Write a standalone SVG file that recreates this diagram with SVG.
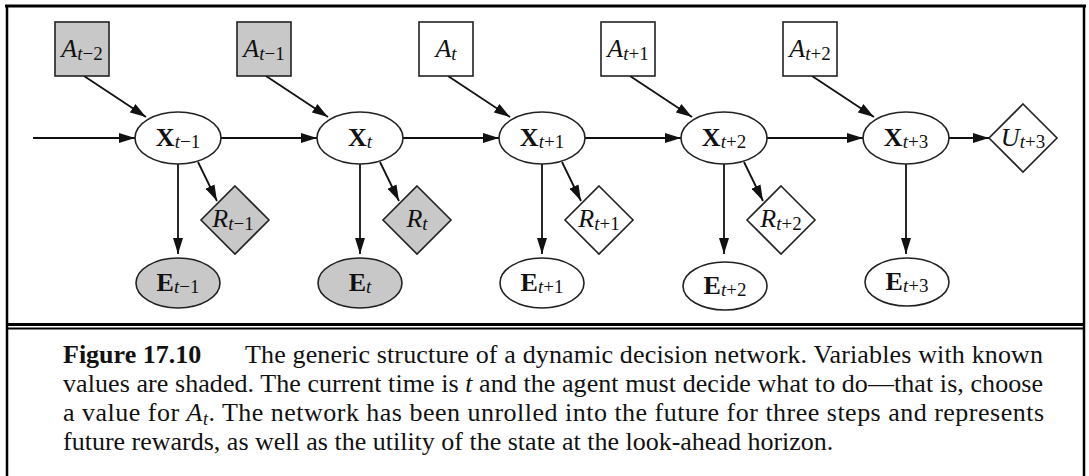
<svg xmlns="http://www.w3.org/2000/svg" width="1089" height="476" viewBox="0 0 1089 476">
<style>
.bg{fill:#fff}
.frame{stroke:#000;fill:none}
.n{stroke:#222;stroke-width:1.6;fill:#fff}
.sh{fill:#c8c8c9}
.e{stroke:#111;stroke-width:1.8;fill:none}
text{font-family:'Liberation Serif',Tinos,'Times New Roman',Times,serif}
.lab{font-size:26px;fill:#111}
.it{font-style:italic}
.bd{font-weight:bold}
.sub{font-size:19px}
.cap{font-size:26px;fill:#111}
</style>
<defs>
<marker id="ah" viewBox="0 0 16 10" refX="16" refY="5" markerWidth="16" markerHeight="10" markerUnits="userSpaceOnUse" orient="auto">
<path d="M0,0 L16,5 L0,10 z" fill="#111"/>
</marker>
</defs>
<rect class="bg" x="0" y="0" width="1089" height="476"/>
<g id="frame">
<line class="frame" x1="5" y1="6" x2="1086" y2="6" stroke-width="3"/>
<line class="frame" x1="7" y1="5" x2="7" y2="476" stroke-width="2.5"/>
<line class="frame" x1="1084" y1="5" x2="1084" y2="476" stroke-width="2.5"/>
<line class="frame" x1="6" y1="324.5" x2="1085" y2="324.5" stroke-width="3"/>
<line class="frame" x1="6" y1="328.5" x2="1085" y2="328.5" stroke-width="2"/>
</g>
<g id="connectors">
<line class="e" x1="33" y1="138" x2="135" y2="138" marker-end="url(#ah)"/>
<line class="e" x1="221" y1="138" x2="317" y2="138" marker-end="url(#ah)"/>
<line class="e" x1="403" y1="138" x2="499" y2="138" marker-end="url(#ah)"/>
<line class="e" x1="585" y1="138" x2="681" y2="138" marker-end="url(#ah)"/>
<line class="e" x1="767" y1="138" x2="863" y2="138" marker-end="url(#ah)"/>
<line class="e" x1="949" y1="138" x2="989" y2="138" marker-end="url(#ah)"/>
<line class="e" x1="84" y1="76" x2="146" y2="117" marker-end="url(#ah)"/>
<line class="e" x1="266" y1="76" x2="328" y2="117" marker-end="url(#ah)"/>
<line class="e" x1="448" y1="76" x2="510" y2="117" marker-end="url(#ah)"/>
<line class="e" x1="630" y1="76" x2="692" y2="117" marker-end="url(#ah)"/>
<line class="e" x1="812" y1="76" x2="874" y2="117" marker-end="url(#ah)"/>
<line class="e" x1="198" y1="162" x2="217" y2="201" marker-end="url(#ah)"/>
<line class="e" x1="380" y1="162" x2="399" y2="201" marker-end="url(#ah)"/>
<line class="e" x1="562" y1="162" x2="581" y2="201" marker-end="url(#ah)"/>
<line class="e" x1="744" y1="162" x2="763" y2="201" marker-end="url(#ah)"/>
<line class="e" x1="178" y1="164" x2="178" y2="254" marker-end="url(#ah)"/>
<line class="e" x1="360" y1="164" x2="360" y2="254" marker-end="url(#ah)"/>
<line class="e" x1="542" y1="164" x2="542" y2="254" marker-end="url(#ah)"/>
<line class="e" x1="724" y1="164" x2="724" y2="254" marker-end="url(#ah)"/>
<line class="e" x1="906" y1="164" x2="906" y2="254" marker-end="url(#ah)"/>
</g>
<g id="A_tm2"><rect class="n sh" x="55" y="22" width="54" height="54"/><text class="lab" x="82" y="57" text-anchor="middle"><tspan class="it">A</tspan><tspan class="sub it" dy="3">t</tspan><tspan class="sub">−2</tspan></text></g>
<g id="A_tm1"><rect class="n sh" x="237" y="22" width="54" height="54"/><text class="lab" x="264" y="57" text-anchor="middle"><tspan class="it">A</tspan><tspan class="sub it" dy="3">t</tspan><tspan class="sub">−1</tspan></text></g>
<g id="A_t"><rect class="n" x="419" y="22" width="54" height="54"/><text class="lab" x="446" y="57" text-anchor="middle"><tspan class="it">A</tspan><tspan class="sub it" dy="3">t</tspan></text></g>
<g id="A_tp1"><rect class="n" x="601" y="22" width="54" height="54"/><text class="lab" x="628" y="57" text-anchor="middle"><tspan class="it">A</tspan><tspan class="sub it" dy="3">t</tspan><tspan class="sub">+1</tspan></text></g>
<g id="A_tp2"><rect class="n" x="783" y="22" width="54" height="54"/><text class="lab" x="810" y="57" text-anchor="middle"><tspan class="it">A</tspan><tspan class="sub it" dy="3">t</tspan><tspan class="sub">+2</tspan></text></g>

<g id="X_tm1"><ellipse class="n" cx="178" cy="138" rx="43" ry="26"/><text class="lab" x="178" y="146" text-anchor="middle"><tspan class="bd">X</tspan><tspan class="sub it" dy="2">t</tspan><tspan class="sub">−1</tspan></text></g>
<g id="X_t"><ellipse class="n" cx="360" cy="138" rx="43" ry="26"/><text class="lab" x="360" y="146" text-anchor="middle"><tspan class="bd">X</tspan><tspan class="sub it" dy="2">t</tspan></text></g>
<g id="X_tp1"><ellipse class="n" cx="542" cy="138" rx="43" ry="26"/><text class="lab" x="542" y="146" text-anchor="middle"><tspan class="bd">X</tspan><tspan class="sub it" dy="2">t</tspan><tspan class="sub">+1</tspan></text></g>
<g id="X_tp2"><ellipse class="n" cx="724" cy="138" rx="43" ry="26"/><text class="lab" x="724" y="146" text-anchor="middle"><tspan class="bd">X</tspan><tspan class="sub it" dy="2">t</tspan><tspan class="sub">+2</tspan></text></g>
<g id="X_tp3"><ellipse class="n" cx="906" cy="138" rx="43" ry="26"/><text class="lab" x="906" y="146" text-anchor="middle"><tspan class="bd">X</tspan><tspan class="sub it" dy="2">t</tspan><tspan class="sub">+3</tspan></text></g>

<g id="U_tp3"><polygon class="n" points="1023,104 1057,138 1023,172 989,138"/><text class="lab" x="1023" y="146" text-anchor="middle"><tspan class="it">U</tspan><tspan class="sub it" dy="2">t</tspan><tspan class="sub">+3</tspan></text></g>

<g id="R_tm1"><polygon class="n sh" points="235,186 269,220 235,254 201,220"/><text class="lab" x="233" y="227" text-anchor="middle"><tspan class="it">R</tspan><tspan class="sub it" dy="3">t</tspan><tspan class="sub">−1</tspan></text></g>
<g id="R_t"><polygon class="n sh" points="417,186 451,220 417,254 383,220"/><text class="lab" x="417" y="227" text-anchor="middle"><tspan class="it">R</tspan><tspan class="sub it" dy="3">t</tspan></text></g>
<g id="R_tp1"><polygon class="n" points="599,186 633,220 599,254 565,220"/><text class="lab" x="599" y="227" text-anchor="middle"><tspan class="it">R</tspan><tspan class="sub it" dy="3">t</tspan><tspan class="sub">+1</tspan></text></g>
<g id="R_tp2"><polygon class="n" points="781,186 815,220 781,254 747,220"/><text class="lab" x="781" y="227" text-anchor="middle"><tspan class="it">R</tspan><tspan class="sub it" dy="3">t</tspan><tspan class="sub">+2</tspan></text></g>

<g id="E_tm1"><ellipse class="n sh" cx="178" cy="283" rx="42" ry="25"/><text class="lab" x="178" y="291" text-anchor="middle"><tspan class="bd">E</tspan><tspan class="sub it" dy="2">t</tspan><tspan class="sub">−1</tspan></text></g>
<g id="E_t"><ellipse class="n sh" cx="360" cy="283" rx="42" ry="25"/><text class="lab" x="360" y="291" text-anchor="middle"><tspan class="bd">E</tspan><tspan class="sub it" dy="2">t</tspan></text></g>
<g id="E_tp1"><ellipse class="n" cx="542" cy="283" rx="42" ry="25"/><text class="lab" x="542" y="291" text-anchor="middle"><tspan class="bd">E</tspan><tspan class="sub it" dy="2">t</tspan><tspan class="sub">+1</tspan></text></g>
<g id="E_tp2"><ellipse class="n" cx="725" cy="286" rx="42" ry="24"/><text class="lab" x="725" y="294" text-anchor="middle"><tspan class="bd">E</tspan><tspan class="sub it" dy="2">t</tspan><tspan class="sub">+2</tspan></text></g>
<g id="E_tp3"><ellipse class="n" cx="907" cy="282" rx="42" ry="24"/><text class="lab" x="907" y="290" text-anchor="middle"><tspan class="bd">E</tspan><tspan class="sub it" dy="2">t</tspan><tspan class="sub">+3</tspan></text></g>

<g id="caption">
<text class="cap bd" x="63" y="363">Figure 17.10</text>
<text class="cap" x="245" y="363" textLength="798" lengthAdjust="spacing">The generic structure of a dynamic decision network. Variables with known</text>
<text class="cap" x="63" y="392" textLength="980" lengthAdjust="spacing">values are shaded. The current time is <tspan class="it">t</tspan> and the agent must decide what to do—that is, choose</text>
<text class="cap" x="63" y="421" textLength="981" lengthAdjust="spacing">a value for <tspan class="it">A</tspan><tspan class="it" font-size="18" dy="4">t</tspan><tspan dy="-4">.</tspan> The network has been unrolled into the future for three steps and represents</text>
<text class="cap" x="63" y="450">future rewards, as well as the utility of the state at the look-ahead horizon.</text>
</g>
</svg>
